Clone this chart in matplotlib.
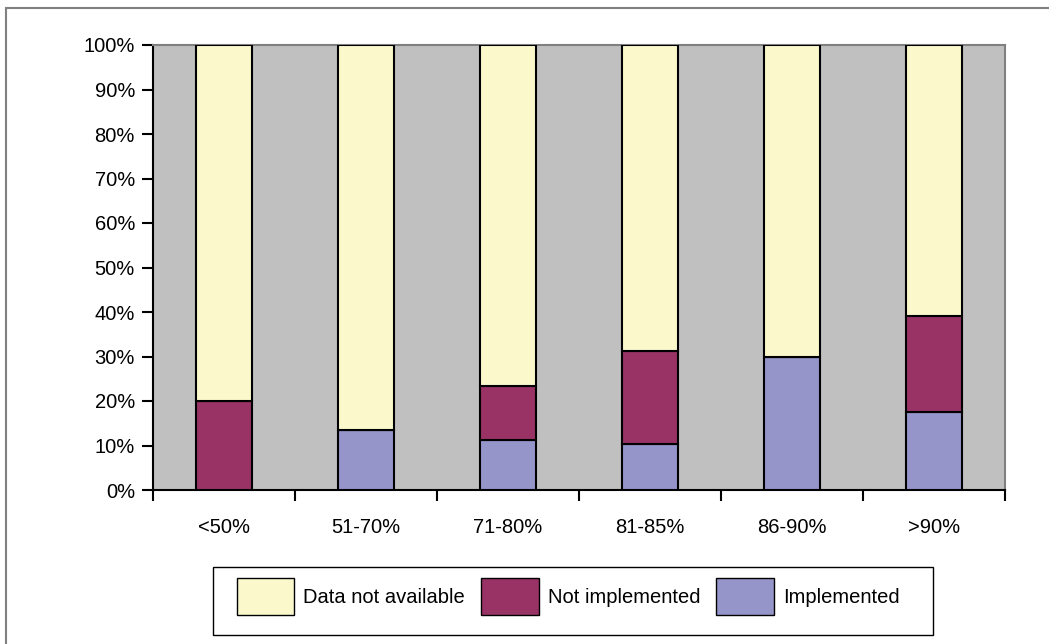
import matplotlib.pyplot as plt
import numpy as np
from matplotlib.patches import Rectangle

plt.rcParams['font.family'] = ['Liberation Sans', 'DejaVu Sans']

# share of each group, in percent
groups = ['<50%', '51-70%', '71-80%', '81-85%', '86-90%', '>90%']
implemented = [0.0, 13.4, 11.3, 10.3, 29.8, 17.5]
not_implemented = [20.0, 0.0, 12.1, 20.9, 0.0, 21.6]
not_available = [100 - a - b for a, b in zip(implemented, not_implemented)]

c_avail = '#FBF9CC'
c_notimpl = '#993366'
c_impl = '#9595C9'
fs = 14.5
W, H = 1049, 644

fig = plt.figure(figsize=(W / 100, H / 100), dpi=100)
ax = fig.add_axes([153 / W, 1 - 490 / H, 852 / W, 445 / H])
ax.set_facecolor('#C0C0C0')

x = np.arange(len(groups))
w = 0.39
kw = dict(width=w, edgecolor='black', linewidth=1.5, zorder=3)
b1 = ax.bar(x, implemented, color=c_impl, **kw)
b2 = ax.bar(x, not_implemented, bottom=implemented, color=c_notimpl, **kw)
bottom2 = [a + b for a, b in zip(implemented, not_implemented)]
b3 = ax.bar(x, not_available, bottom=bottom2, color=c_avail, **kw)

ax.set_xlim(-0.5, len(groups) - 0.5)
ax.set_ylim(0, 100)
ax.set_yticks(range(0, 101, 10))
ax.set_yticklabels([f'{v}%' for v in range(0, 101, 10)], fontsize=fs)

# category labels centred, ticks on the boundaries
ax.set_xticks(np.arange(-0.5, len(groups), 1.0))
ax.set_xticklabels([])
ax.set_xticks(x, minor=True)
ax.set_xticklabels(groups, minor=True, fontsize=fs)
ax.tick_params(axis='x', which='minor', length=0, pad=20)
ax.tick_params(axis='x', which='major', length=8, width=1.5, direction='out')
ax.tick_params(axis='y', length=8, width=1.5, direction='out', pad=5)

for side in ['top', 'right']:
    ax.spines[side].set_color('#808080')
    ax.spines[side].set_linewidth(1.5)
ax.spines['left'].set_linewidth(1.5)
ax.spines['bottom'].set_linewidth(1.5)

# outer chart frame
fig.patches.append(Rectangle((6 / W, -0.1), 1.2, 1.1 - 8 / H,
                             transform=fig.transFigure, fill=False,
                             edgecolor='#808080', linewidth=1.5))

# legend box drawn separately so its padding can be set per side
fig.patches.append(Rectangle((213 / W, 1 - 635 / H), 720 / W, 68 / H,
                             transform=fig.transFigure, facecolor='white',
                             edgecolor='black', linewidth=1.0))
leg = fig.legend([b3, b2, b1], ['Data not available', 'Not implemented', 'Implemented'],
                 loc='center left', bbox_to_anchor=(237 / W, 1 - 596.5 / H),
                 ncol=3, fontsize=fs, frameon=False,
                 handlelength=2.85, handleheight=2.45,
                 handletextpad=0.45, columnspacing=0.8, borderpad=0,
                 borderaxespad=0)
for p in leg.get_patches():
    p.set_linewidth(1.0)

fig.savefig('out.png', dpi=100)
